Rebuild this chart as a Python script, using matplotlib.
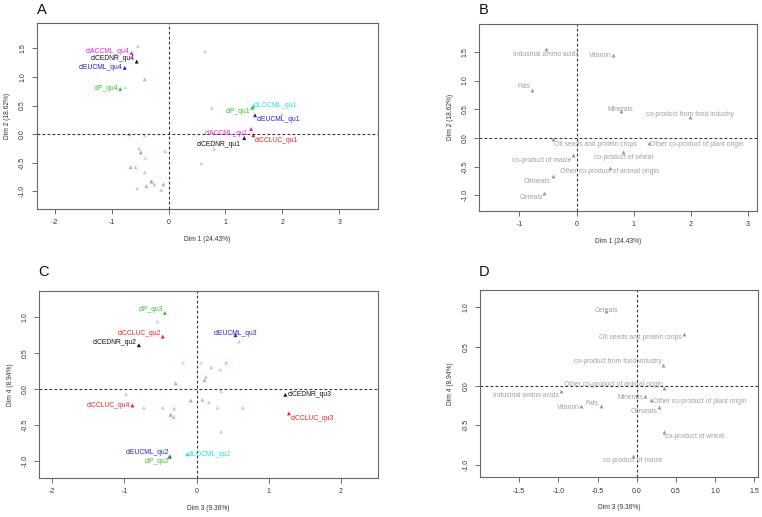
import numpy as np
import matplotlib
matplotlib.use("Agg")
import matplotlib.pyplot as plt

plt.rcParams["font.family"] = ["Liberation Sans", "DejaVu Sans"]

# ---- panel A : qualitative levels on Dim 1 / Dim 2
a_lab_names = ["clACCML_qu4", "clCEDNR_qu4", "clEUCML_qu4", "clP_qu4", "clLOCML_qu1",
               "clP_qu1", "clEUCML_qu1", "clACCML_qu1", "clCEDNR_qu1", "clCCLUC_qu1"]
a_lab_x = [-0.65, -0.56, -0.77, -0.85, 1.49, 1.47, 1.52, 1.45, 1.33, 1.49]
a_lab_y = [1.42, 1.27, 1.16, 0.79, 0.49, 0.46, 0.33, 0.09, -0.07, -0.02]
a_lab_col = ["magenta", "black", "blue", "green", "cyan", "green", "blue", "magenta", "black", "red"]

a_fade_x = [-0.54, -0.76, -0.42, 0.64, 0.76, 1.99, 0.80, 0.58, -0.06, -0.69, -0.42, -0.52,
            -0.49, -0.41, -0.67, -0.58, -0.42, -0.30, -0.25, -0.39, -0.09, -0.13, -0.55]
a_fade_y = [1.54, 0.82, 0.96, 1.45, 0.46, 0.35, -0.26, -0.51, -0.30, 0.00, -0.02, -0.25,
            -0.32, -0.42, -0.58, -0.58, -0.67, -0.83, -0.88, -0.91, -0.88, -0.98, -0.95]
a_fade_col = ["gray", "cyan", "red", "gray", "gray", "gray", "gray", "gray", "gray", "red", "gray",
              "green", "dgray", "cyan", "blue", "magenta", "gray", "teal", "magenta", "red",
              "blue", "green", "gray"]

# ---- panel C : qualitative levels on Dim 3 / Dim 4
c_lab_names = ["clP_qu3", "clCCLUC_qu2", "clCEDNR_qu2", "clEUCML_qu3", "clCEDNR_qu3",
               "clCCLUC_qu3", "clCCLUC_qu4", "clEUCML_qu2", "clP_qu2", "clLOCML_qu2"]
c_lab_x = [-0.44, -0.47, -0.80, 0.54, 1.23, 1.28, -0.89, -0.37, -0.38, -0.13]
c_lab_y = [1.06, 0.73, 0.61, 0.75, -0.08, -0.34, -0.23, -0.94, -0.95, -0.91]
c_lab_col = ["green", "red", "black", "blue", "black", "red", "red", "blue", "green", "cyan"]

c_fade_x = [-0.54, 0.59, -0.19, 0.065, 0.20, 0.41, 0.33, 0.13, 0.11, -0.29, -0.98, 0.34,
            -0.08, 0.08, 0.17, -0.73, -0.47, -0.31, -0.36, -0.32, 0.29, 0.64, 0.34]
c_fade_y = [0.94, 0.66, 0.37, 0.37, 0.30, 0.37, 0.27, 0.17, 0.125, 0.08, -0.07, -0.03,
            -0.16, -0.15, -0.185, -0.26, -0.26, -0.27, -0.36, -0.39, -0.26, -0.26, -0.59]
c_fade_col = ["gray", "gray", "cyan", "cyan", "magenta", "magenta", "gray", "green", "blue",
              "blue", "gray", "gray", "dgray", "red", "gray", "gray", "gray", "magenta", "dgray",
              "magenta", "gray", "green", "gray"]

# ---- panels B and D : supplementary feed categories
feeds = ["Industrial amino acids", "Vitamin", "Fats", "Minerals", "co-product from food industry",
         "Oil seeds and protein crops", "Other co-product of plant origin", "co-product of maize",
         "co-product of wheat", "Other co-product of animal origin", "Oilmeals", "Cereals"]
b_x = [-0.54, 0.64, -0.78, 0.77, 1.99, -0.41, 1.26, -0.06, 0.82, 0.58, -0.42, -0.56]
b_y = [1.55, 1.45, 0.84, 0.47, 0.36, -0.02, -0.09, -0.30, -0.25, -0.52, -0.67, -0.95]
d_x = [-0.97, -0.71, -0.46, 0.11, 0.34, 0.60, 0.18, -0.05, 0.35, 0.35, 0.29, -0.39]
d_y = [-0.06, -0.25, -0.25, -0.13, 0.27, 0.665, -0.18, -0.89, -0.58, -0.02, -0.26, 0.95]

# label placement (pixel offsets, alignment)
a_off = [(-2, 2, "right"), (-2, 3, "right"), (-2, 0, "right"), (-2, 0, "right"), (0, 1, "left"),
         (-2, -4, "right"), (2, -4, "left"), (-3, -5, "right"), (-3, -6, "right"), (1, -5, "left")]
c_off = [(-2, 3, "right"), (-2, 3, "right"), (-2, 3, "right"), (0, 2, "center"), (2, 0, "left"),
         (2, -5, "left"), (-2, 0, "right"), (-1, 4, "right"), (0, -4, "right"), (1, 0, "left")]
b_off = [(0, -5, "center"), (-2, -1, "right"), (-1, 3, "right"), (0, 2, "center"), (0, 3, "center"),
         (1, -5, "left"), (1, -1, "left"), (-2, -5, "right"), (0, -5, "center"), (0, -4, "center"),
         (-2, -5, "right"), (-1, -5, "right")]
d_off = [(-2, -5, "right"), (-2, -2, "right"), (-2, 2, "right"), (-2, -1, "right"), (-2, 3, "right"),
         (-2, -4, "right"), (2, -1, "left"), (0, -4, "center"), (1, -5, "left"), (-1, 3, "right"),
         (-2, -5, "right"), (0, 1, "center")]

strong = {"magenta": "#E020E0", "black": "#111111", "blue": "#2020D0", "green": "#30C030",
          "cyan": "#20E0E0", "red": "#F02020"}
faded = {"gray": "#D0D0D0", "dgray": "#A8A8A8", "red": "#F5A0A0", "green": "#A8E0A8",
         "cyan": "#A8F0F0", "blue": "#A8A8F0", "magenta": "#F0A8F0", "teal": "#70B0A8"}

LAB_FS = 4.9
fig = plt.figure(figsize=(7.62, 5.17), dpi=100)
fig.patch.set_facecolor("white")


def setup(ax, xlim, ylim, xticks, yticks, xlabel, ylabel, fmt):
    ax.set_xlim(*xlim)
    ax.set_ylim(*ylim)
    ax.set_xticks(xticks)
    ax.set_yticks(yticks)
    ax.set_xticklabels([fmt(t) for t in xticks], fontsize=5, color="#333333")
    ax.set_yticklabels([f"{t:.1f}" for t in yticks], fontsize=5, color="#333333",
                       rotation=90, va="center")
    ax.tick_params(length=3.5, width=0.6, color="#555555", pad=4)
    for sp in ax.spines.values():
        sp.set_color("#666666")
        sp.set_linewidth(0.8)
    ax.axhline(0, color="#333333", lw=0.8, ls=(0, (2.5, 2)))
    ax.axvline(0, color="#333333", lw=0.8, ls=(0, (2.5, 2)))
    ax.set_xlabel(xlabel, fontsize=4.8, color="#333333", labelpad=7)
    ax.set_ylabel(ylabel, fontsize=4.8, color="#333333", labelpad=6)


def put_labels(ax, xs, ys, names, offs, cols):
    for x, y, n, (dx, dy, ha), c in zip(xs, ys, names, offs, cols):
        ax.annotate(n, (x, y), xytext=(dx, dy), textcoords="offset pixels",
                    ha=ha, va="center", fontsize=LAB_FS, color=c)


fint = lambda t: f"{t:g}"
f1 = lambda t: f"{t:.1f}"

# A
axA = fig.add_axes([0.048, 0.596, 0.448, 0.36])
setup(axA, (-2.32, 3.68), (-1.31, 1.95), [-2, -1, 0, 1, 2, 3], [-1.0, -0.5, 0.0, 0.5, 1.0, 1.5],
      "Dim 1 (24.43%)", "Dim 2 (18.62%)", fint)
axA.scatter(a_fade_x, a_fade_y, marker="^", s=8, c=[faded[k] for k in a_fade_col], lw=0)
axA.scatter(a_lab_x, a_lab_y, marker="^", s=8, c=[strong[k] for k in a_lab_col], lw=0)
put_labels(axA, a_lab_x, a_lab_y, a_lab_names, a_off, [strong[k] for k in a_lab_col])

# B
axB = fig.add_axes([0.629, 0.592, 0.364, 0.362])
setup(axB, (-1.70, 3.15), (-1.27, 1.99), [-1, 0, 1, 2, 3], [-1.0, -0.5, 0.0, 0.5, 1.0, 1.5],
      "Dim 1 (24.43%)", "Dim 2 (18.62%)", fint)
axB.scatter(b_x, b_y, marker="^", s=8, c="#999999", lw=0)
put_labels(axB, b_x, b_y, feeds, b_off, ["#A0A0A0"] * len(feeds))

# C
axC = fig.add_axes([0.0516, 0.0754, 0.444, 0.361])
setup(axC, (-2.18, 2.51), (-1.24, 1.36), [-2, -1, 0, 1, 2], [-1.0, -0.5, 0.0, 0.5, 1.0],
      "Dim 3 (9.36%)", "Dim 4 (8.94%)", fint)
axC.scatter(c_fade_x, c_fade_y, marker="^", s=8, c=[faded[k] for k in c_fade_col], lw=0)
axC.scatter(c_lab_x, c_lab_y, marker="^", s=8, c=[strong[k] for k in c_lab_col], lw=0)
put_labels(axC, c_lab_x, c_lab_y, c_lab_names, c_off, [strong[k] for k in c_lab_col])

# D
axD = fig.add_axes([0.63, 0.0768, 0.365, 0.362])
setup(axD, (-2.0, 1.55), (-1.16, 1.22), [-1.5, -1.0, -0.5, 0.0, 0.5, 1.0, 1.5],
      [-1.0, -0.5, 0.0, 0.5, 1.0], "Dim 3 (9.36%)", "Dim 4 (8.94%)", f1)
axD.scatter(d_x, d_y, marker="^", s=8, c="#999999", lw=0)
put_labels(axD, d_x, d_y, feeds, d_off, ["#A0A0A0"] * len(feeds))

for lab, x, y in [("A", 37 / 762, 1 - 10 / 517), ("B", 479 / 762, 1 - 10 / 517),
                  ("C", 38 / 762, 1 - 272 / 517), ("D", 479 / 762, 1 - 272 / 517)]:
    fig.text(x, y, lab, fontsize=10.5, color="#111111", va="center", ha="left")

fig.savefig("out.png", dpi=100)
